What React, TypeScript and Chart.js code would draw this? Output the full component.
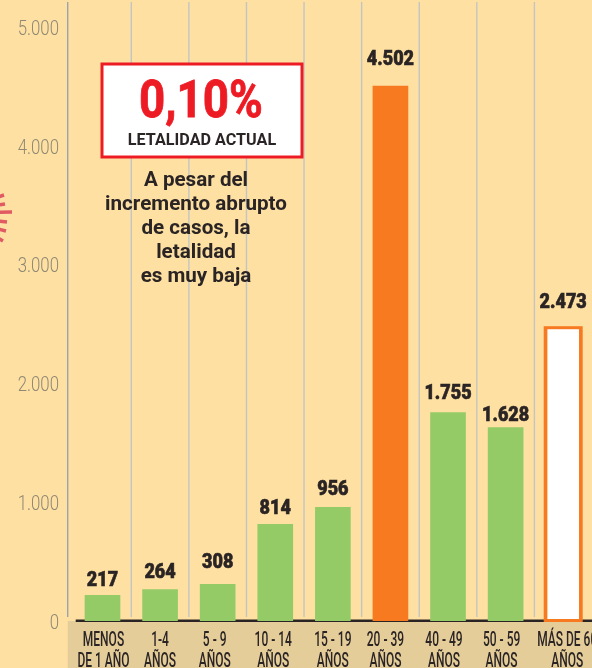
import React, { useEffect, useRef } from "react";
import { Chart, registerables } from "chart.js";

Chart.register(...registerables);

const categories = [
  ["MENOS", "DE 1 AÑO"],
  ["1-4", "AÑOS"],
  ["5 - 9", "AÑOS"],
  ["10 - 14", "AÑOS"],
  ["15 - 19", "AÑOS"],
  ["20 - 39", "AÑOS"],
  ["40 - 49", "AÑOS"],
  ["50 - 59", "AÑOS"],
  ["MÁS DE 60", "AÑOS"],
];
const values = [217, 264, 308, 814, 956, 4502, 1755, 1628, 2473];
const fills = ["#95CB66", "#95CB66", "#95CB66", "#95CB66", "#95CB66", "#F77A20", "#95CB66", "#95CB66", "#FFFFFF"];
const yTicks = [0, 1000, 2000, 3000, 4000, 5000];
const noteLines = ["A pesar del", "incremento abrupto", "de casos, la", "letalidad", "es muy baja"];
const BG = "#FEE0A3";
const BAND = "#E5CD9A";
const INK = "#2A2424";
const RED = "#ED1C24";
const ORANGE = "#F77A20";
const labelGaps = [9, 12, 16, 10, 12, 21, 14, 7, 19];
const categoryNudges = [1, 0, -3, -2, 0, -5, -4, -4, 4];

const fmt = (v: number) => String(v).replace(/\B(?=(\d{3})+$)/g, ".");

function squeezed(ctx: CanvasRenderingContext2D, text: string, x: number, y: number, sx: number, bold = 0) {
  ctx.save();
  ctx.translate(x, y);
  ctx.scale(sx, 1);
  ctx.fillText(text, 0, 0);
  if (bold) {
    ctx.strokeStyle = ctx.fillStyle;
    ctx.lineWidth = bold;
    ctx.strokeText(text, 0, 0);
  }
  ctx.restore();
}

const decor = {
  id: "decor",
  beforeDraw(chart: any) {
    const { ctx, width, height, scales } = chart;
    const y0 = scales.y.getPixelForValue(0);
    const x = scales.x;
    const step = x.getPixelForValue(1) - x.getPixelForValue(0);
    ctx.save();
    ctx.fillStyle = BG;
    ctx.fillRect(0, 0, width, height);
    const left = chart.chartArea.left - 6;
    ctx.fillStyle = BAND;
    ctx.fillRect(left, y0, width - left, height - y0);
    // vertical rules
    ctx.lineWidth = 1.4;
    ctx.strokeStyle = "#9DA3AC";
    ctx.beginPath();
    ctx.moveTo(left, 2);
    ctx.lineTo(left, y0 - 4);
    ctx.stroke();
    ctx.strokeStyle = "#C3C5C4";
    categories.forEach((_, i) => {
      if (i === 0) return;
      const px = x.getPixelForValue(i) - step / 2;
      ctx.beginPath();
      ctx.moveTo(px, 2);
      ctx.lineTo(px, y0 - 4);
      ctx.stroke();
    });
    // partial virus emblem on the left edge
    ctx.strokeStyle = "#E05A64";
    ctx.lineWidth = 3.5;
    [[4, 195], [5, 204], [12, 212], [7, 222], [6, 231], [3, 241]].forEach(([ex, ey]) => {
      ctx.beginPath();
      ctx.moveTo(-4, 214 + (ey - 214) * 0.85);
      ctx.lineTo(ex, ey);
      ctx.stroke();
    });
    // baseline
    ctx.fillStyle = INK;
    ctx.fillRect(chart.chartArea.left + 2, y0 - 1.5, width, 2.5);
    ctx.restore();
  },
  afterDraw(chart: any) {
    const { ctx, scales } = chart;
    const meta = chart.getDatasetMeta(0);
    ctx.save();
    // outer outline of the last bar
    const last = meta.data[meta.data.length - 1];
    ctx.strokeStyle = ORANGE;
    ctx.lineWidth = 3;
    ctx.strokeRect(last.x - last.width / 2 - 0.5, last.y + 0.5, last.width + 1, last.base - last.y - 1);
    // y tick labels
    ctx.fillStyle = "#8F8873";
    ctx.textAlign = "right";
    ctx.textBaseline = "middle";
    ctx.font = "300 21px Roboto";
    yTicks.forEach((v) => {
      squeezed(ctx, fmt(v), 59, scales.y.getPixelForValue(v) + 2.5, 0.8);
    });
    // value labels
    ctx.fillStyle = INK;
    ctx.textAlign = "center";
    ctx.textBaseline = "alphabetic";
    ctx.font = "900 20px Roboto";
    meta.data.forEach((el: any, i: number) => {
      squeezed(ctx, fmt(values[i]), el.x, el.y - labelGaps[i], 0.9, 0.6);
    });
    // category labels
    ctx.font = "500 20px Roboto";
    const y0 = scales.y.getPixelForValue(0);
    categories.forEach((lines, i) => {
      const px = scales.x.getPixelForValue(i) + categoryNudges[i];
      lines.forEach((t, j) => squeezed(ctx, t, px, y0 + 25 + j * 21, 0.6));
    });
    // callout box
    ctx.fillStyle = "#FFFFFF";
    ctx.fillRect(102, 64, 200, 93);
    ctx.strokeStyle = RED;
    ctx.lineWidth = 3;
    ctx.strokeRect(102, 64, 200, 93);
    ctx.fillStyle = RED;
    ctx.font = "700 52px Roboto";
    squeezed(ctx, "0,10%", 201, 117, 0.88, 0.8);
    ctx.fillStyle = INK;
    ctx.font = "700 17px Roboto";
    squeezed(ctx, "LETALIDAD ACTUAL", 202, 145, 0.95);
    ctx.font = "700 20px Roboto";
    noteLines.forEach((t, i) => {
      squeezed(ctx, t, 196, 186 + i * 24, 1.03);
    });
    ctx.restore();
  },
};

export default function App() {
  const ref = useRef<HTMLCanvasElement>(null);
  useEffect(() => {
    const chart = new Chart(ref.current!, {
      type: "bar",
      data: {
        labels: categories.map((c) => c.join(" ")),
        datasets: [
          {
            data: values,
            backgroundColor: fills,
            borderColor: fills.map((f) => (f === "#FFFFFF" ? ORANGE : f)),
            borderWidth: fills.map((f) => (f === "#FFFFFF" ? 2 : 0)),
            barThickness: 35,
            borderSkipped: false,
          },
        ],
      },
      options: {
        responsive: false,
        animation: false,
        layout: { padding: { top: 27, bottom: 47, left: 0, right: 0 } },
        plugins: { legend: { display: false }, tooltip: { enabled: false } },
        scales: {
          x: {
            type: "category",
            grid: { display: false, drawTicks: false },
            border: { display: false },
            ticks: { display: false },
            afterFit: (s: any) => {
              s.height = 0;
            },
          },
          y: {
            min: 0,
            max: 5000,
            afterFit: (s: any) => {
              s.width = 73.7;
            },
            grid: { display: false, drawTicks: false },
            border: { display: false },
            afterBuildTicks: (s: any) => {
              s.ticks = yTicks.map((value) => ({ value }));
            },
            ticks: { display: false },
          },
        },
      },
      plugins: [decor],
    } as any);
    return () => chart.destroy();
  }, []);
  return (
    <div style={{ position: "absolute", left: 0, top: 0, width: 592, height: 668, overflow: "hidden" }}>
      <canvas ref={ref} width={592} height={668} style={{ display: "block" }} />
    </div>
  );
}
